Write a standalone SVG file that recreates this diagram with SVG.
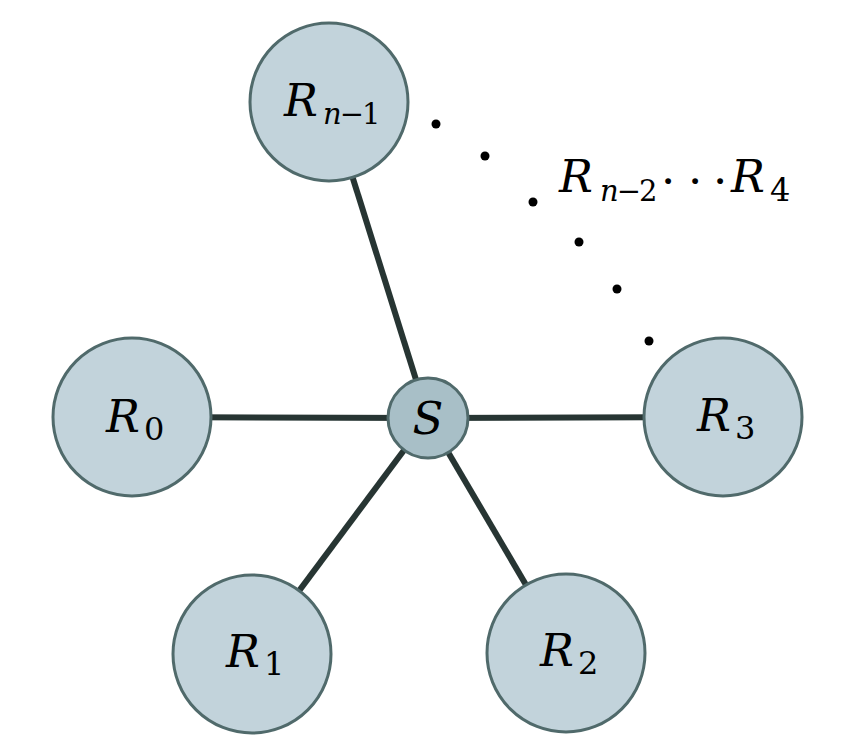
<svg xmlns="http://www.w3.org/2000/svg" width="868" height="747" viewBox="0 0 868 747">
<style>
.edge{stroke:#273533;stroke-width:6;fill:none}
.node{fill:#c2d3db;stroke:#506a6b;stroke-width:3}
.hub{fill:#a8bfc7;stroke:#506a6b;stroke-width:3}
text{font-family:'DejaVu Serif','Liberation Serif',serif;fill:#000}
.it{font-style:italic;font-size:45px}
.sub{font-size:32px}
.sub2{font-size:29px;letter-spacing:-2px}
.dot{fill:#000}
</style>
<rect width="868" height="747" fill="#fff"/>
<g id="connectors">
<line class="edge" x1="428" y1="418" x2="132" y2="417"/>
<line class="edge" x1="428" y1="418" x2="723" y2="417"/>
<line class="edge" x1="428" y1="418" x2="329" y2="102"/>
<line class="edge" x1="428" y1="418" x2="252" y2="654"/>
<line class="edge" x1="428" y1="418" x2="566" y2="653"/>
</g>
<g id="ellipsis">
<circle class="dot" cx="436" cy="124" r="4.5"/>
<circle class="dot" cx="485" cy="156" r="4.5"/>
<circle class="dot" cx="533" cy="202" r="4.5"/>
<circle class="dot" cx="579" cy="242" r="4.5"/>
<circle class="dot" cx="617" cy="289" r="4.5"/>
<circle class="dot" cx="649" cy="341" r="4.5"/>
</g>
<g id="R0">
<circle class="node" cx="132" cy="417" r="79"/>
<text><tspan class="it" x="106" y="432">R</tspan><tspan class="sub" x="144" y="440">0</tspan></text>
</g>
<g id="R1">
<circle class="node" cx="252" cy="654" r="79"/>
<text><tspan class="it" x="226" y="667">R</tspan><tspan class="sub" x="264" y="675">1</tspan></text>
</g>
<g id="R2">
<circle class="node" cx="566" cy="653" r="79"/>
<text><tspan class="it" x="540" y="666">R</tspan><tspan class="sub" x="578" y="674">2</tspan></text>
</g>
<g id="R3">
<circle class="node" cx="723" cy="417" r="79"/>
<text><tspan class="it" x="697" y="431">R</tspan><tspan class="sub" x="735" y="439">3</tspan></text>
</g>
<g id="Rn1">
<circle class="node" cx="329" cy="102" r="79"/>
<text><tspan class="it" x="284" y="116">R</tspan><tspan class="sub2" x="323" y="124"><tspan font-style="italic">n</tspan>−1</tspan></text>
</g>
<g id="S">
<circle class="hub" cx="428" cy="418" r="40"/>
<text class="it" x="428" y="434" text-anchor="middle">S</text>
</g>
<g id="label">
<text><tspan class="it" x="559" y="192">R</tspan><tspan class="sub2" x="600" y="201"><tspan font-style="italic">n</tspan>−2</tspan><tspan font-size="45" x="661" y="197">·</tspan><tspan font-size="45" x="688" y="197">·</tspan><tspan font-size="45" x="713" y="197">·</tspan><tspan class="it" x="731" y="192">R</tspan><tspan class="sub" x="770" y="201">4</tspan></text>
</g>
</svg>
